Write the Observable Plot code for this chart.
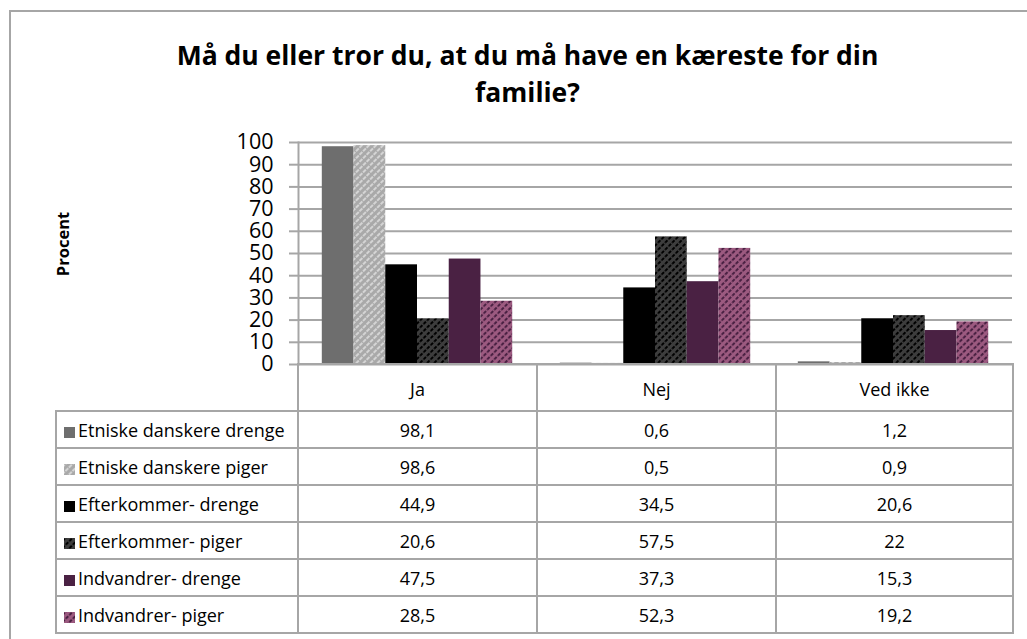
<!DOCTYPE html>
<html>
<head>
<meta charset="utf-8">
<script src="https://cdn.jsdelivr.net/npm/d3@7"></script>
<script src="https://cdn.jsdelivr.net/npm/@observablehq/plot@0.6"></script>
<style>
  html, body { margin: 0; padding: 0; background: #fff; }
  body { width: 1027px; height: 639px; overflow: hidden; position: relative; font-family: "Open Sans", sans-serif; color: #000; }
  #frame { position: absolute; left: 9px; top: 10px; width: 1100px; height: 700px; border: 2px solid #a6a6a6; box-sizing: border-box; }
  #title { position: absolute; left: 0; top: 37px; width: 1055px; text-align: center; font-weight: 700; font-size: 26.5px; line-height: 37px; }
  #ylabel { position: absolute; left: 62px; top: 244px; transform: translate(-50%, -50%) rotate(-90deg); font-weight: 700; font-size: 16.5px; white-space: nowrap; }
  #chart { position: absolute; left: 0; top: 130px; }
  #tbl { position: absolute; left: 55px; top: 363px; border-collapse: collapse; table-layout: fixed; font-size: 18px; }
  #tbl td { border: 2px solid #a6a6a6; padding: 0; text-align: center; height: 35px; line-height: 22px; }
  #tbl tr.head td { height: 42px; padding-top: 3px; }
  #tbl tr.head td.blank { border: none; border-right: 2px solid #a6a6a6; }
  #tbl td.lab { text-align: left; padding-left: 7px; white-space: nowrap; }
  #tbl td.lab svg { vertical-align: -1px; margin-right: 3px; }
</style>
</head>
<body>
<svg width="0" height="0" style="position:absolute">
  <defs>
    <pattern id="pat-edp" width="5" height="5" patternUnits="userSpaceOnUse" patternTransform="rotate(45)">
      <rect width="5" height="5" fill="#a9a9a9"/>
      <rect width="2" height="4" fill="#d4d4d4"/>
    </pattern>
    <pattern id="pat-efp" width="5" height="5" patternUnits="userSpaceOnUse" patternTransform="rotate(45)">
      <rect width="5" height="5" fill="#3d3d3d"/>
      <rect width="2" height="3.5" fill="#000"/>
    </pattern>
    <pattern id="pat-inp" width="5" height="5" patternUnits="userSpaceOnUse" patternTransform="rotate(45)">
      <rect width="5" height="5" fill="#9c5a80"/>
      <rect width="2" height="3.5" fill="#4a2143"/>
    </pattern>
  </defs>
</svg>
<div id="frame"></div>
<div id="title">Må du eller tror du, at du må have en kæreste for din<br>familie?</div>
<div id="ylabel">Procent</div>
<div id="chart"></div>
<table id="tbl"></table>
<script>
// ---- Data ----
const categories = ["Ja", "Nej", "Ved ikke"];
const seriesNames = [
  "Etniske danskere drenge",
  "Etniske danskere piger",
  "Efterkommer- drenge",
  "Efterkommer- piger",
  "Indvandrer- drenge",
  "Indvandrer- piger"
];
const etniskeDrenge = [98.1, 0.6, 1.2];
const etniskePiger = [98.6, 0.5, 0.9];
const efterkommerDrenge = [44.9, 34.5, 20.6];
const efterkommerPiger = [20.6, 57.5, 22];
const indvandrerDrenge = [47.5, 37.3, 15.3];
const indvandrerPiger = [28.5, 52.3, 19.2];
const yTicks = [0, 10, 20, 30, 40, 50, 60, 70, 80, 90, 100];

const seriesValues = [etniskeDrenge, etniskePiger, efterkommerDrenge, efterkommerPiger, indvandrerDrenge, indvandrerPiger];
const seriesFills = ["#6e6e6e", "url(#pat-edp)", "#000000", "url(#pat-efp)", "#4a2143", "url(#pat-inp)"];

const rows = [];
seriesNames.forEach((s, i) => {
  categories.forEach((c, j) => rows.push({series: s, category: c, value: seriesValues[i][j], fill: seriesFills[i]}));
});

const grid = "#a6a6a6";
const chart = Plot.plot({
  width: 1027,
  height: 250,
  marginLeft: 297,
  marginRight: 15,
  marginTop: 12,
  marginBottom: 16,
  style: {fontFamily: "'Open Sans', sans-serif", fontSize: "21px", color: "#000", background: "transparent", overflow: "visible"},
  fx: {domain: categories, padding: 0, axis: null},
  x: {domain: seriesNames, paddingInner: 0, paddingOuter: 0.75, round: false, axis: null},
  y: {domain: [0, 100], axis: null},
  color: {type: "identity"},
  marks: [
    Plot.gridY(yTicks, {stroke: grid, strokeOpacity: 1, strokeWidth: 2}),
    Plot.frame({anchor: "left", facetAnchor: "left", stroke: grid, strokeWidth: 2}),
    Plot.barY(rows, {fx: "category", x: "series", y: "value", fill: "fill"}),
    Plot.axisY(yTicks, {label: null, tickSize: 9, tickPadding: 16, stroke: grid, strokeWidth: 2, fill: "#000", fontSize: 21.5, tickFormat: d => String(d)})
  ]
});
document.getElementById("chart").appendChild(chart);

// ---- Data table ----
const fmt = v => String(v).replace(".", ",");
const tbl = document.getElementById("tbl");
const colgroup = document.createElement("colgroup");
[242, 239, 239, 237].forEach(w => { const c = document.createElement("col"); c.style.width = w + "px"; colgroup.appendChild(c); });
tbl.appendChild(colgroup);
const head = document.createElement("tr");
head.className = "head";
const blank = document.createElement("td"); blank.className = "blank"; head.appendChild(blank);
categories.forEach(c => { const td = document.createElement("td"); td.textContent = c; head.appendChild(td); });
tbl.appendChild(head);
seriesNames.forEach((s, i) => {
  const tr = document.createElement("tr");
  const lab = document.createElement("td");
  lab.className = "lab";
  lab.innerHTML = `<svg width="11" height="11"><rect width="11" height="11" fill="${seriesFills[i]}"/></svg>`;
  lab.appendChild(document.createTextNode(s));
  tr.appendChild(lab);
  seriesValues[i].forEach(v => { const td = document.createElement("td"); td.textContent = fmt(v); tr.appendChild(td); });
  tbl.appendChild(tr);
});
</script>
</body>
</html>
